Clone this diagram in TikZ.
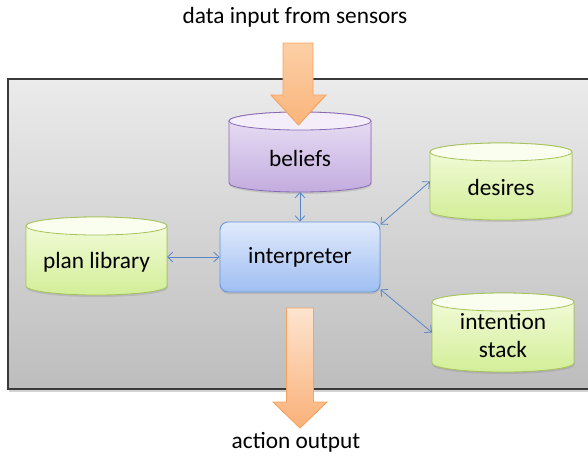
\documentclass[tikz,border=0pt]{standalone}
\usepackage{fontspec}
\setmainfont{Carlito}
\usetikzlibrary{arrows.meta,calc,shadows}
\definecolor{boxtop}{HTML}{EBEBEB}
\definecolor{boxbot}{HTML}{BDBDBD}
\definecolor{boxline}{HTML}{3A3A3A}
\definecolor{purpline}{HTML}{8A6BB3}
\definecolor{purptop}{HTML}{EAE1F5}
\definecolor{purpbot}{HTML}{C3ACDF}
\definecolor{purpcap}{HTML}{F3EEFA}
\definecolor{grnline}{HTML}{A5C25C}
\definecolor{grntop}{HTML}{F4FCDE}
\definecolor{grnbot}{HTML}{D3EE98}
\definecolor{grncap}{HTML}{FAFEEE}
\definecolor{bluline}{HTML}{6A96D6}
\definecolor{blutop}{HTML}{E0EAFC}
\definecolor{blubot}{HTML}{9EBEF2}
\definecolor{connblue}{HTML}{5A86C5}
\definecolor{orgline}{HTML}{F6A35E}
\definecolor{orgtop}{HTML}{FDE4CF}
\definecolor{orgbot}{HTML}{FAB179}
\definecolor{orgtopB}{HTML}{FCCFA6}
\definecolor{orgbotB}{HTML}{FAB57C}
\newcommand\drawcyl[5]{%
  \path[draw=#2, line width=0.6pt, top color=#3, bottom color=#4,
        drop shadow={shadow xshift=0.4pt, shadow yshift=-1.5pt, opacity=0.25}]
    let \p1=(#1.north west), \p2=(#1.south east), \n1={(\x2-\x1)/2} in
    (\x1,\y1-6.75pt) -- (\x1,\y2+6.75pt)
    arc[start angle=180, end angle=360, x radius=\n1, y radius=6.75pt]
    -- (\x2,\y1-6.75pt)
    arc[start angle=0, end angle=180, x radius=\n1, y radius=6.75pt] -- cycle;
  \path[draw=#2, line width=0.6pt, fill=#5]
    let \p1=(#1.north west), \p2=(#1.south east), \p3=(#1.north), \n1={(\x2-\x1)/2} in
    (\x3,\y1-6.75pt) ellipse[x radius=\n1, y radius=6.75pt];
}
\begin{document}
\begin{tikzpicture}[x=0.75pt, y=0.75pt,
  font=\fontsize{17.5pt}{21pt}\selectfont,
  cylarea/.style={inner sep=0pt, outer sep=0pt, minimum width=#1},
  cyltext/.style={inner sep=0pt, align=center},
  interpbox/.style={draw=bluline, line width=0.7pt, rounded corners=6pt,
    top color=blutop, bottom color=blubot, minimum width=120pt, minimum height=52.5pt,
    inner sep=0pt, drop shadow={shadow xshift=0.4pt, shadow yshift=-1.5pt, opacity=0.25}},
  conn/.style={draw=connblue, line width=0.6pt,
    {Straight Barb[length=4pt,width=7.5pt]}-{Straight Barb[length=4pt,width=7.5pt]}},
  blockarrow/.style={draw=orgline, line width=0.7pt, top color=orgtop, bottom color=orgbot}]
\useasboundingbox (0,0) rectangle (588,455);

% enclosing box
\begin{scope}
  \clip (0,0) rectangle (588,455);
  \path[draw=boxline, line width=0.8pt, top color=boxtop, bottom color=boxbot,
        drop shadow={shadow xshift=0.5pt, shadow yshift=-2pt, opacity=0.35}]
    (8,66) rectangle (610,376);
\end{scope}

% cylinder areas
\node[cylarea=106.5pt, minimum height=60pt] (beliefs) at (300,303) {};
\node[cylarea=105.75pt, minimum height=58.5pt] (plan) at (96.5,199) {};
\node[cylarea=106.5pt, minimum height=57.75pt] (desires) at (501,273.5) {};
\node[cylarea=106.5pt, minimum height=59.25pt] (intention) at (503,122.5) {};

\drawcyl{beliefs}{purpline}{purptop}{purpbot}{purpcap}
\drawcyl{plan}{grnline}{grntop}{grnbot}{grncap}
\drawcyl{desires}{grnline}{grntop}{grnbot}{grncap}
\drawcyl{intention}{grnline}{grntop}{grnbot}{grncap}

\node[cyltext, yshift=-4.5pt] (beliefsT) at (beliefs) {beliefs};
\node[cyltext, yshift=-4.5pt] (planT) at (plan) {plan library};
\node[cyltext, yshift=-4.8pt] (desiresT) at (desires) {desires};
\node[cyltext, yshift=-2.6pt] (intentionT) at (intention) {intention\\stack};

% interpreter
\node[interpbox] (interp) at (300,198) {\raisebox{-1.5pt}{interpreter}};

% connectors
\draw[conn] (beliefs.south) -- (interp.north);
\draw[conn] (plan.east |- interp.west) -- (interp.west);
\draw[conn] (interp.22) -- (desires.west);
\draw[conn] (interp.-22) -- (intention.west);

% block arrows
\path[blockarrow, top color=orgtopB, bottom color=orgbotB]
  (283,412) -- (283,360) -- (271,360) -- (298.5,330)
  -- (326,360) -- (313,360) -- (313,412) -- cycle;
\path[blockarrow] (286.5,147) -- (286.5,53) -- (273,53) -- (300,27)
  -- (327,53) -- (313.5,53) -- (313.5,147) -- cycle;

% texts
\node[inner sep=0pt] (inputT) at (295,438) {data input from sensors};
\node[inner sep=0pt] (outputT) at (296,13) {action output};
\end{tikzpicture}
\end{document}
